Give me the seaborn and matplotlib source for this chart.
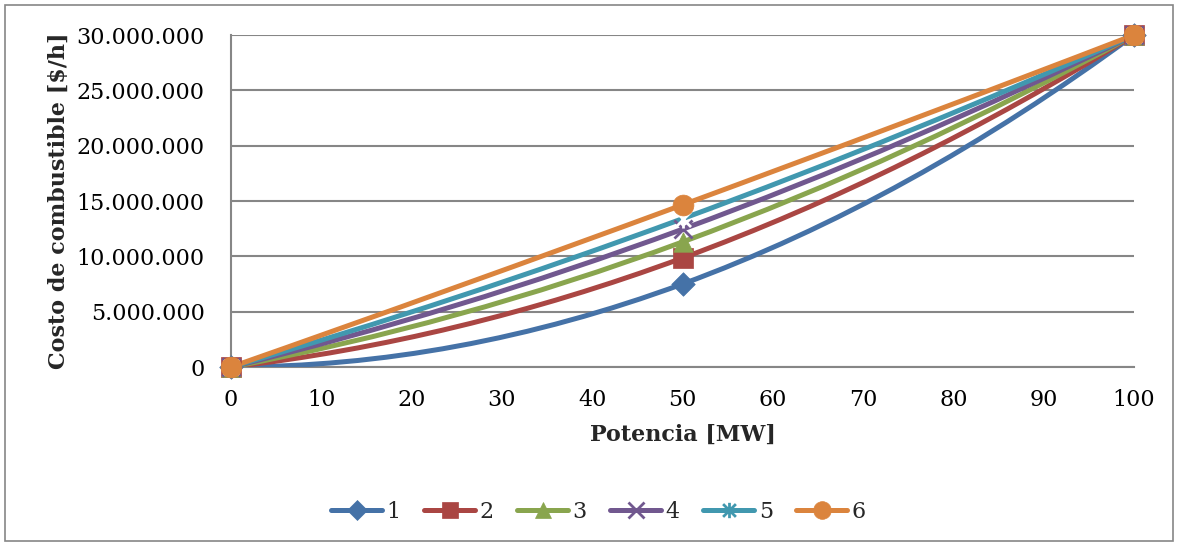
import numpy as np
import pandas as pd
import matplotlib
matplotlib.use("Agg")
import matplotlib.pyplot as plt
import seaborn as sns
from matplotlib.path import Path
from matplotlib.patches import PathPatch, Rectangle
from matplotlib.lines import Line2D
from matplotlib.ticker import FuncFormatter, MultipleLocator

# ---- data ----
potencia = [0, 50, 100]
serie_1 = [0, 7500000, 30000000]
serie_2 = [0, 9850000, 30000000]
serie_3 = [0, 11300000, 30000000]
serie_4 = [0, 12450000, 30000000]
serie_5 = [0, 13400000, 30000000]
serie_6 = [0, 14650000, 30000000]
series_names = ["1", "2", "3", "4", "5", "6"]
series_values = [serie_1, serie_2, serie_3, serie_4, serie_5, serie_6]
x_label = "Potencia [MW]"
y_label = "Costo de combustible [$/h]"

colors = ["#4572A7", "#AA4643", "#89A54E", "#71588F", "#4198AF", "#DB843D"]
asterisk = Path([(-1, -1), (1, 1), (-1, 1), (1, -1), (0, -1.2), (0, 1.2)],
                [Path.MOVETO, Path.LINETO, Path.MOVETO, Path.LINETO, Path.MOVETO, Path.LINETO])
markers = ["D", "s", "^", "x", asterisk, "o"]
msizes = [12, 14, 14, 13, 13, 15]

sns.set_style("white")
plt.rcParams["font.family"] = ["DejaVu Serif"]

rows = []
for name, vals in zip(series_names, series_values):
    for xv, yv in zip(potencia, vals):
        rows.append({"serie": name, "x": xv, "y": yv})
df = pd.DataFrame(rows)

fig = plt.figure(figsize=(11.78, 5.46), dpi=100)
ax = fig.add_axes([231/1178, 1-367/546, (1134-231)/1178, (367-35)/546])

def smooth_path(xs, ys):
    # cubic Hermite (Bezier) smoothing through the data points
    xs = np.asarray(xs, float); ys = np.asarray(ys, float)
    n = len(xs)
    m = np.zeros(n)
    for i in range(n):
        if i == 0:
            m[i] = (-3*ys[0] + 4*ys[1] - ys[2]) / (xs[2] - xs[0])
        elif i == n-1:
            m[i] = (3*ys[-1] - 4*ys[-2] + ys[-3]) / (xs[-1] - xs[-3])
        else:
            m[i] = (ys[i+1] - ys[i-1]) / (xs[i+1] - xs[i-1])
    verts = [(xs[0], ys[0])]
    codes = [Path.MOVETO]
    for i in range(n-1):
        h = xs[i+1] - xs[i]
        verts += [(xs[i] + h/3, ys[i] + m[i]*h/3),
                  (xs[i+1] - h/3, ys[i+1] - m[i+1]*h/3),
                  (xs[i+1], ys[i+1])]
        codes += [Path.CURVE4]*3
    return Path(verts, codes)

for i, name in enumerate(series_names):
    sub = df[df.serie == name]
    patch = PathPatch(smooth_path(sub.x.values, sub.y.values), facecolor="none",
                      edgecolor=colors[i], lw=3.6, zorder=3+i*0.1, capstyle="round",
                      joinstyle="round")
    ax.add_patch(patch)

def is_line_marker(mk):
    return not isinstance(mk, str) or mk == "x"

for i, name in enumerate(series_names):
    sub = df[df.serie == name]
    mk = markers[i]
    kw = dict(s=msizes[i]**2, color=colors[i], marker=mk, zorder=4+i*0.1, clip_on=False, legend=False)
    if is_line_marker(mk):
        kw.update(linewidth=2)
    else:
        kw.update(edgecolor=colors[i], linewidth=0.5)
    sns.scatterplot(data=sub, x="x", y="y", ax=ax, **kw)

ax.set_xlim(0, 100)
ax.set_ylim(0, 30000000)
ax.xaxis.set_major_locator(MultipleLocator(10))
ax.yaxis.set_major_locator(MultipleLocator(5000000))
ax.yaxis.set_major_formatter(FuncFormatter(lambda v, p: f"{int(v):,}".replace(",", ".")))

gray = "#868686"
ax.grid(axis="y", color=gray, lw=1.5)
ax.grid(axis="x", visible=False)
ax.set_axisbelow(True)
for s in ["top", "right"]:
    ax.spines[s].set_visible(False)
for s in ["left", "bottom"]:
    ax.spines[s].set_color(gray)
    ax.spines[s].set_linewidth(1.5)
ax.tick_params(axis="both", direction="out", length=7, width=1.5, color=gray,
               labelsize=16, labelcolor="black")
ax.tick_params(axis="y", pad=12)
ax.tick_params(axis="x", pad=9)

ax.set_xlabel(x_label, fontsize=16, fontweight="bold", labelpad=9)
ax.set_ylabel(y_label, fontsize=16, fontweight="bold", labelpad=5)

handles = [Line2D([0], [0], color=colors[i], lw=3.6, marker=markers[i],
                  markersize=msizes[i]*0.85,
                  markeredgewidth=2 if is_line_marker(markers[i]) else 0.5,
                  solid_capstyle="round")
           for i in range(len(series_names))]
fig.legend(handles, series_names, loc="center", bbox_to_anchor=(0.508, 1-512/546),
           ncol=6, frameon=False, fontsize=16, handlelength=2.3, handletextpad=0.2,
           columnspacing=1.05)

fig.patches.append(Rectangle((5/1178, 5/546), 1-10/1178, 1-10/546, transform=fig.transFigure,
                             fill=False, edgecolor=gray, lw=1.2))

fig.savefig("out.png", dpi=100)
